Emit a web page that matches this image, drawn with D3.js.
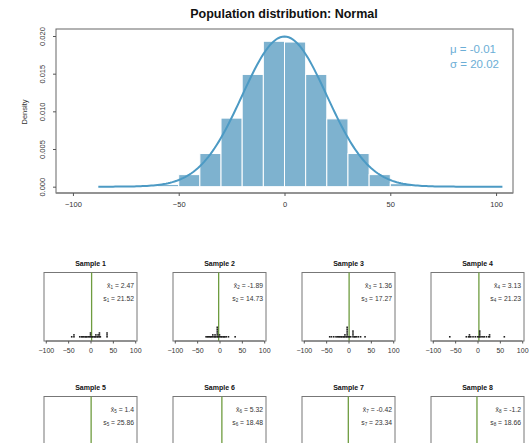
<!DOCTYPE html>
<html><head><meta charset="utf-8">
<script src="https://cdn.jsdelivr.net/npm/d3@7"></script>
<style>body{margin:0;background:#fff}svg{display:block;font-family:"Liberation Sans",Arial,sans-serif}</style>
</head><body><svg id="c" width="529" height="443"></svg>
<script>
// ---- data ----
const popMu = -0.01, popSigma = 20.02;
const curveRange = [-88, 103];
const binStarts = [-90,-80,-70,-60,-50,-40,-30,-20,-10,0,10,20,30,40,50,60,70,80,90,100];
const binDensity = [0,0.00001,0.00005,0.0003,0.0016,0.0044,0.0091,0.0149,0.0193,0.0192,0.0149,0.0090,0.0044,0.0016,0.0004,0.00005,0.00001,0,0,0];
const mainXTicks = [-100,-50,0,50,100];
const mainYTicks = [0,0.005,0.010,0.015,0.020];
const sampleNames = ["Sample 1","Sample 2","Sample 3","Sample 4","Sample 5","Sample 6","Sample 7","Sample 8"];
const sampleMeans = ["2.47","-1.89","1.36","3.13","1.4","5.32","-0.42","-1.2"];
const sampleSDs = ["21.52","14.73","17.27","21.23","25.86","18.48","23.34","18.66"];
const sampleMeanVals = [2.47,-1.89,1.36,3.13,1.4,5.32,-0.42,-1.2];
const sample1 = [-42,-37,-37,-24,-20,-18,-15,-12,-10,-8,-5,-2,0,0,0,3,5,8,10,12,12,15,17,17,20,20,20,22,37,37,37];
const sample2 = [-30,-27,-25,-22,-20,-18,-15,-15,-12,-10,-10,-8,-5,-5,-5,-5,-5,-5,-3,0,0,3,5,8,10,12,15,20,35];
const sample3 = [-42,-38,-33,-28,-25,-22,-20,-17,-15,-12,-10,-8,-8,-5,-3,-3,-3,-3,-3,-3,0,2,5,10,10,10,10,13,15,18,22,27,37];
const sample4 = [-62,-25,-20,-18,-18,-15,-10,-5,0,3,5,5,5,5,8,12,15,20,25,27,27,60];
const sampleData = [sample1,sample2,sample3,sample4,[],[],[],[]];
const sampleXTicks = [-100,-50,0,50,100];

const svg = d3.select("#c");
const barFill = "#7eb2cf", curveCol = "#4c9ac4", txtBlue = "#6caed6", green = "#6e9c3f";

// ---- main plot ----
const x = d3.scaleLinear().domain([-108,108]).range([56,513]);
const y = d3.scaleLinear().domain([-0.00084,0.02093]).range([193,29]);

svg.append("text").attr("x",284).attr("y",18).attr("text-anchor","middle")
  .attr("font-weight","bold").attr("font-size",12.5).attr("fill","#111")
  .text("Population distribution: Normal");

svg.append("g").selectAll("rect").data(binStarts).join("rect")
  .attr("x",d=>x(d)).attr("width",d=>x(d+10)-x(d))
  .attr("y",(d,i)=>y(binDensity[i])).attr("height",(d,i)=>y(0)-y(binDensity[i]))
  .attr("fill",barFill).attr("stroke","#fff").attr("stroke-width",1);

const dnorm = v => Math.exp(-0.5*((v-popMu)/popSigma)**2)/(popSigma*Math.sqrt(2*Math.PI));
const cx = d3.range(curveRange[0], curveRange[1]+0.5, 1);
svg.append("path").datum(cx)
  .attr("d", d3.line().x(d=>x(d)).y(d=>y(dnorm(d))))
  .attr("fill","none").attr("stroke",curveCol).attr("stroke-width",2);

svg.append("rect").attr("x",56).attr("y",29).attr("width",457).attr("height",164)
  .attr("fill","none").attr("stroke","#666").attr("stroke-width",1);
svg.append("line").attr("x1",56).attr("x2",513).attr("y1",193).attr("y2",193).attr("stroke","#888").attr("stroke-width",1.5);

const xa = svg.append("g").attr("transform","translate(0,193)")
  .call(d3.axisBottom(x).tickValues(mainXTicks).tickSize(3).tickFormat(d3.format("d")));
xa.select(".domain").remove();
xa.selectAll("line").attr("stroke","#555");
xa.selectAll("text").attr("font-size",7.5).attr("fill","#333").attr("font-family","Liberation Sans, Arial").attr("dy","1.1em");

const ya = svg.append("g").attr("transform","translate(56,0)")
  .call(d3.axisLeft(y).tickValues(mainYTicks).tickSize(3).tickFormat(d3.format(".3f")));
ya.select(".domain").remove();
ya.selectAll("line").attr("stroke","#555");
ya.selectAll("text").attr("font-size",7.5).attr("fill","#333").attr("font-family","Liberation Sans, Arial")
  .attr("x",0).attr("dy",0).attr("text-anchor","middle")
  .attr("transform","translate(-11,0) rotate(-90)");

svg.append("text").attr("transform","translate(27,112) rotate(-90)").attr("text-anchor","middle")
  .attr("font-size",7.5).attr("fill","#333").text("Density");

svg.append("text").attr("x",450).attr("y",53).attr("font-size",11.5).attr("fill",txtBlue).text("\u03bc = -0.01");
svg.append("text").attr("x",450).attr("y",68).attr("font-size",11.5).attr("fill",txtBlue).text("\u03c3 = 20.02");

// ---- samples ----
const panelLeft = [44,173,302,431];
const rowTop = [272.5,396.5];
const pw = 93, ph = 68.5;
sampleNames.forEach((name,i)=>{
  const col = i%4, row = Math.floor(i/4);
  const L = panelLeft[col], T = rowTop[row];
  const g = svg.append("g");
  const sx = d3.scaleLinear().domain([-104,104]).range([L,L+pw]);
  g.append("text").attr("x",L+pw/2).attr("y",T-7).attr("text-anchor","middle")
    .attr("font-weight","bold").attr("font-size",7).attr("fill","#111").text(name);
  g.append("rect").attr("x",L).attr("y",T).attr("width",pw).attr("height",ph)
    .attr("fill","none").attr("stroke","#777").attr("stroke-width",1);
  g.append("line").attr("x1",sx(sampleMeanVals[i])).attr("x2",sx(sampleMeanVals[i]))
    .attr("y1",T).attr("y2",T+ph).attr("stroke",green).attr("stroke-width",1.3);
  const tx = L+pw-3;
  const t1 = g.append("text").attr("x",tx).attr("y",T+15).attr("text-anchor","end").attr("font-size",6.8).attr("fill","#333");
  t1.append("tspan").text("x\u0304");
  t1.append("tspan").attr("font-size",4.6).attr("dy",1.5).text(String(i+1));
  t1.append("tspan").attr("dy",-1.5).text(" = "+sampleMeans[i]);
  const t2 = g.append("text").attr("x",tx).attr("y",T+28).attr("text-anchor","end").attr("font-size",6.8).attr("fill","#333");
  t2.append("tspan").text("s");
  t2.append("tspan").attr("font-size",4.6).attr("dy",1.5).text(String(i+1));
  t2.append("tspan").attr("dy",-1.5).text(" = "+sampleSDs[i]);
  // stacked dots
  const counts = {};
  const pts = sampleData[i].map(v=>{const k=counts[v]||0;counts[v]=k+1;return {v,k};});
  g.selectAll("rect.dot").data(pts).join("rect").attr("class","dot")
    .attr("x",d=>sx(d.v)-0.8).attr("y",d=>T+ph-5-d.k*1.9).attr("width",1.6).attr("height",1.6).attr("fill","#222");
  if (row === 0) {
    const ax = g.append("g").attr("transform",`translate(0,${T+ph})`)
      .call(d3.axisBottom(sx).tickValues(sampleXTicks).tickSize(2.5).tickFormat(d3.format("d")));
    ax.select(".domain").attr("d",`M${sx(-100)},0H${sx(100)}`).attr("stroke","#666");
    ax.selectAll("line").attr("stroke","#555");
    ax.selectAll("text").attr("font-size",7).attr("fill","#333").attr("font-family","Liberation Sans, Arial").attr("dy","0.9em");
  }
});
</script></body></html>
